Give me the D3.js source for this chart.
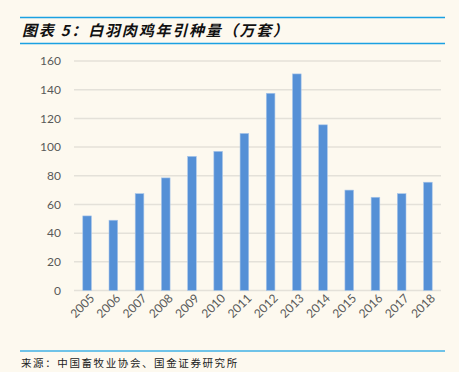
<!DOCTYPE html>
<html>
<head>
<meta charset="utf-8">
<script src="https://cdn.jsdelivr.net/npm/d3@7"></script>
<style>
  body { margin: 0; background: #fdf9ef; }
  svg { display: block; }
</style>
</head>
<body>
<script>
// data
const years = ["2005","2006","2007","2008","2009","2010","2011","2012","2013","2014","2015","2016","2017","2018"];
const imports = [52, 49, 67.5, 78.5, 93.5, 97, 109.5, 137.5, 151, 115.5, 70, 65, 67.5, 75.5];
const yTicks = [0, 20, 40, 60, 80, 100, 120, 140, 160];

const titleText = "图表 5：白羽肉鸡年引种量（万套）";
const sourceText = "来源：中国畜牧业协会、国金证券研究所";

let width = 459;
let height = 372;

const svg = d3.select("body").append("svg")
  .attr("width", width)
  .attr("height", height)
  .style("background-color", "#fdf9ef");

// header lines + title
svg.append("line").attr("x1", 20).attr("x2", 445).attr("y1", 17.5).attr("y2", 17.5)
  .attr("stroke", "#1ba1e2").attr("stroke-width", 1.5);
svg.append("line").attr("x1", 20).attr("x2", 445).attr("y1", 43.5).attr("y2", 43.5)
  .attr("stroke", "#1ba1e2").attr("stroke-width", 1.5);
svg.append("text")
  .attr("x", 22).attr("y", 36)
  .attr("font-family", "'Noto Sans CJK SC'")
  .attr("font-size", 15)
  .attr("font-weight", "bold")
  .attr("font-style", "italic")
  .attr("letter-spacing", 1.8)
  .attr("fill", "#111")
  .text(titleText);

// footer
svg.append("line").attr("x1", 20).attr("x2", 445).attr("y1", 351).attr("y2", 351)
  .attr("stroke", "#3fb0e6").attr("stroke-width", 1.5);
svg.append("text")
  .attr("x", 21).attr("y", 366.5)
  .attr("font-family", "'Noto Sans CJK SC'")
  .attr("font-size", 10.5)
  .attr("letter-spacing", 1.6)
  .attr("fill", "#222")
  .text(sourceText);

let xScale = d3.scaleBand().domain(years).range([74, 441]).paddingInner(0.67).paddingOuter(0.335);
let yScale = d3.scaleLinear().domain([0, 160]).range([290.5, 61]);

// gridlines
let grid = svg.append("g");
grid.selectAll("line").data(yTicks).enter().append("line")
  .attr("x1", 74).attr("x2", 441)
  .attr("y1", d => yScale(d)).attr("y2", d => yScale(d))
  .attr("stroke", "#e4e1d9")
  .attr("stroke-width", 1.5);

// y axis labels
let yAxis = d3.axisLeft(yScale).tickValues(yTicks).tickSize(0).tickPadding(0);
let yg = svg.append("g").attr("transform", "translate(61,0)").call(yAxis);
yg.select(".domain").remove();
yg.selectAll("text")
  .attr("font-family", "Lato, 'Open Sans', sans-serif")
  .attr("font-size", 12)
  .attr("fill", "#595959");

// bars
svg.append("g").selectAll("rect").data(imports).enter().append("rect")
  .attr("x", (d, i) => xScale(years[i]))
  .attr("width", xScale.bandwidth())
  .attr("y", d => yScale(d))
  .attr("height", d => yScale(0) - yScale(d))
  .attr("fill", "#5590d6")
  .attr("stroke", "#a9c6ea")
  .attr("stroke-width", 0.6);

// x axis labels
let xAxis = d3.axisBottom(xScale).tickSize(0).tickPadding(0);
let xg = svg.append("g").attr("transform", "translate(0,296)").call(xAxis);
xg.select(".domain").remove();
xg.selectAll("text")
  .attr("font-family", "Lato, 'Open Sans', sans-serif")
  .attr("font-size", 12)
  .attr("fill", "#595959")
  .attr("text-anchor", "end")
  .attr("dy", "0.35em")
  .attr("dx", "0")
  .attr("transform", "translate(5,0) rotate(-45)");
</script>
</body>
</html>
